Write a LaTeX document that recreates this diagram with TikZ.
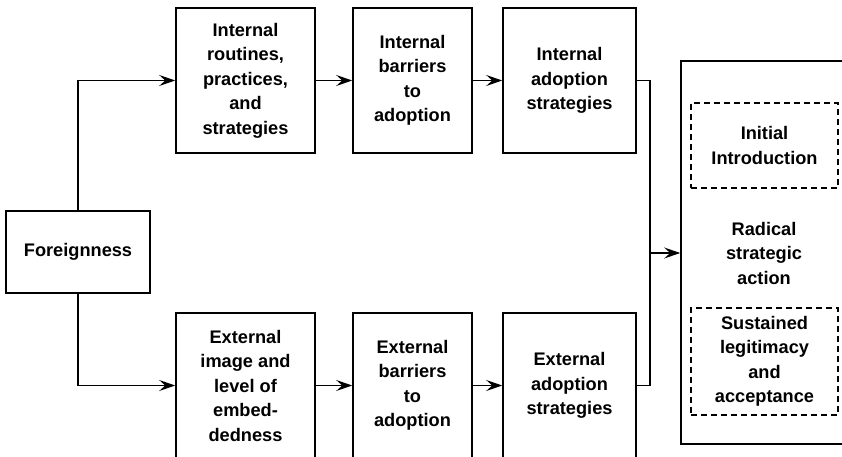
\documentclass[tikz,border=0pt]{standalone}
\usepackage{fontspec}
\setmainfont{Liberation Sans}
\usetikzlibrary{arrows.meta}
\begin{document}
\begin{tikzpicture}[x=1pt,y=-1pt,
  txt/.style={font=\bfseries\fontsize{18.2}{24.5}\selectfont,align=center,inner sep=0pt},
  box/.style={txt,draw,line width=1.6pt,minimum height=145pt},
  dbox/.style={txt,draw,line width=1.3pt,dash pattern=on 6pt off 4pt,minimum width=147pt},
  conn/.style={line width=1.4pt},
  arr/.style={conn,-{Stealth[length=16pt,width=11pt,inset=6pt]}}
]
\useasboundingbox (0,0) rectangle (842,457);
\clip (0,0) rectangle (842,457);
\fill[white] (0,0) rectangle (842,457);
% left
\node[txt,draw,line width=1.6pt,minimum width=144pt,minimum height=82pt] (fo) at (78,252) {Foreignness};
% top row
\node[box,minimum width=139pt] (ir) at (245.5,80.5) {Internal\\routines,\\practices,\\and\\strategies};
\node[box,minimum width=119pt] (ib) at (412.5,80.5) {Internal\\barriers\\to\\adoption};
\node[box,minimum width=133pt] (ia) at (569.5,80.5) {Internal\\adoption\\strategies};
% bottom row
\node[box,minimum width=139pt] (ee) at (245.5,385.5) {External\\image and\\level of\\embed-\\dedness};
\node[box,minimum width=119pt] (eb) at (412.5,385.5) {External\\barriers\\to\\adoption};
\node[box,minimum width=133pt] (ea) at (569.5,385.5) {External\\adoption\\strategies};
% right block
\node[draw,line width=1.6pt,minimum width=164pt,minimum height=383pt,inner sep=0pt] (rs) at (763,252.5) {};
\node[dbox,minimum height=85pt] (di) at (764.5,145.5) {Initial\\Introduction};
\node[txt] (rt) at (764,253) {Radical\\strategic\\action};
\node[dbox,minimum height=107pt] (ds) at (764.5,361.5) {Sustained\\legitimacy\\and\\acceptance};
% connectors
\draw[arr] (fo.north) |- (ir.west);
\draw[arr] (fo.south) |- (ee.west);
\draw[arr] (ir) -- (ib);
\draw[arr] (ib) -- (ia);
\draw[arr] (ee) -- (eb);
\draw[arr] (eb) -- (ea);
\coordinate (j) at (650,253);
\draw[conn] (ia.east) -| (j) |- (ea.east);
\draw[arr] (j) -- (rs.west |- j);
\end{tikzpicture}
\end{document}
